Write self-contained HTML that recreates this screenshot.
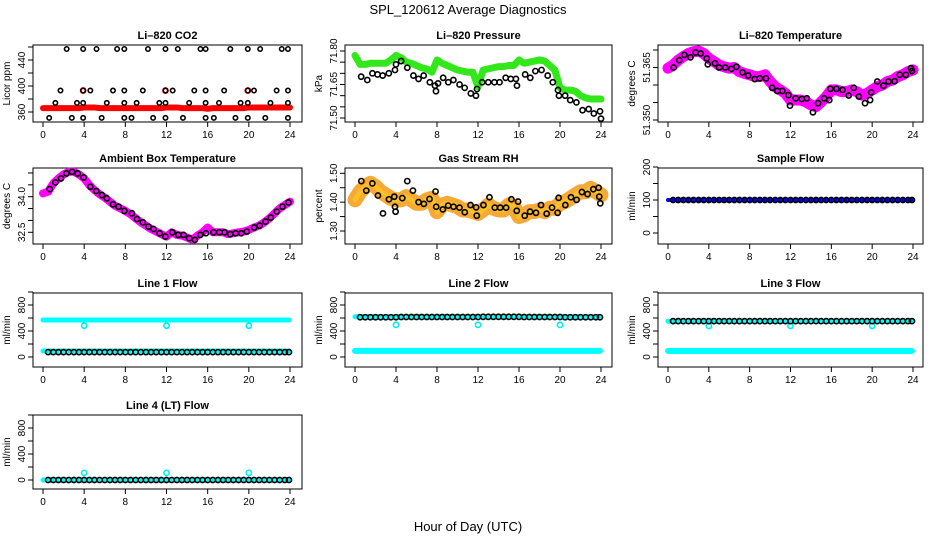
<!DOCTYPE html>
<html><head><meta charset="utf-8"><title>SPL_120612 Average Diagnostics</title>
<style>
html,body{margin:0;padding:0;background:#fff;}
svg{display:block;font-family:"Liberation Sans",Arial,sans-serif;}
</style></head>
<body>
<svg id="chart" width="936" height="540" viewBox="0 0 936 540" xmlns="http://www.w3.org/2000/svg">
<rect x="0" y="0" width="936" height="540" fill="#fff"/>
<text x="468" y="14" text-anchor="middle" font-size="13">SPL_120612  Average Diagnostics</text>
<text x="468" y="531" text-anchor="middle" font-size="13">Hour of Day (UTC)</text>
</svg>
<script>
// ---------- data ----------
const xTicks = [0,4,8,12,16,20,24];
const halfHours = [0,0.5,1,1.5,2,2.5,3,3.5,4,4.5,5,5.5,6,6.5,7,7.5,8,8.5,9,9.5,10,10.5,11,11.5,12,12.5,13,13.5,14,14.5,15,15.5,16,16.5,17,17.5,18,18.5,19,19.5,20,20.5,21,21.5,22,22.5,23,23.5,24];
const flowHours = [0.5,1,1.5,2,2.5,3,3.5,4,4.5,5,5.5,6,6.5,7,7.5,8,8.5,9,9.5,10,10.5,11,11.5,12,12.5,13,13.5,14,14.5,15,15.5,16,16.5,17,17.5,18,18.5,19,19.5,20,20.5,21,21.5,22,22.5,23,23.5,23.9];

// CO2
const co2Red = [366,366,366,366,366,366,366,366,367,367,367,366,366,366,366,366,366,366,366,366,366,366,366,366,367,367,367,366,366,366,366,366,365,366,366,366,366,366,366,366,367,367,367,367,367,367,367,367,367];
const co2RedSpikeHours = [3.9,11.9,19.9];
const co2RedSpikeVals = [393,393,393];
const co2BlackHours = [2.3,3.9,5.2,7.2,7.9,10.2,11.9,13.1,15.3,15.8,18.2,19.9,21.1,23.2,23.8,
  1.7,3.9,4.6,6.8,7.9,9.7,11.9,12.6,14.7,15.8,17.6,19.9,20.5,22.7,23.8,
  1.2,3.3,3.9,6.2,7.9,9.1,11.3,11.9,14.2,15.8,17.1,19.2,19.9,22.1,23.8,
  0.6,2.8,3.9,5.7,7.9,8.6,10.7,11.9,13.6,15.8,16.6,18.7,19.9,21.6,23.8];
const co2BlackVals = [457,457,457,457,457,457,457,457,457,457,457,457,457,457,457,
  393,393,393,393,393,393,393,393,393,393,393,393,393,393,393,
  374,374,374,374,374,374,374,374,374,374,374,374,374,374,374,
  351,351,351,351,351,351,351,351,351,351,351,351,351,351,351];

// Pressure
const presGreen = [71.78,71.74,71.74,71.745,71.745,71.745,71.745,71.76,71.78,71.77,71.75,71.745,71.735,71.725,71.72,71.705,71.76,71.745,71.735,71.725,71.715,71.71,71.705,71.705,71.64,71.715,71.72,71.725,71.73,71.73,71.735,71.735,71.76,71.745,71.75,71.755,71.76,71.755,71.735,71.715,71.635,71.625,71.625,71.62,71.60,71.59,71.585,71.585,71.585];
const presBlackHours = [0.6,1.2,1.7,2.2,2.7,3.3,3.9,4.0,4.5,5.1,5.7,6.2,6.7,7.3,7.8,7.9,8.1,8.6,9.1,9.6,10.2,10.7,11.3,11.8,11.9,12.4,13.0,13.6,14.1,14.7,15.2,15.7,15.8,16.6,17.1,17.6,18.2,18.8,19.3,19.8,19.9,20.5,21.0,21.6,22.2,22.8,23.3,23.9,24];
const presBlackVals = [71.685,71.67,71.70,71.695,71.69,71.70,71.715,71.74,71.755,71.725,71.69,71.675,71.69,71.66,71.645,71.62,71.655,71.68,71.66,71.67,71.65,71.635,71.61,71.60,71.63,71.66,71.66,71.66,71.66,71.68,71.675,71.675,71.645,71.695,71.68,71.71,71.715,71.69,71.66,71.625,71.60,71.60,71.58,71.57,71.535,71.54,71.52,71.53,71.497];

// Li-820 temperature
const tempMag = [51.3648,51.3657,51.3671,51.3681,51.3690,51.3695,51.3697,51.3690,51.3676,51.3667,51.3657,51.3652,51.3648,51.3650,51.3638,51.3633,51.3629,51.3624,51.3624,51.3629,51.3610,51.3595,51.3586,51.3576,51.3557,51.3557,51.3557,51.3552,51.3543,51.3538,51.3552,51.3567,51.3586,51.3586,51.3581,51.3581,51.3586,51.3581,51.3571,51.3576,51.3586,51.3595,51.3600,51.3610,51.3614,51.3624,51.3629,51.3638,51.3643];
const tempBlackHours = [0.55,1.1,1.6,2.2,2.7,3.2,3.8,3.9,4.6,5.0,5.6,6.2,6.7,7.3,7.85,8.5,9.0,9.6,10.2,10.7,11.2,11.8,11.95,12.5,13.1,13.6,14.2,14.7,15.3,15.8,15.9,16.5,17.1,17.7,18.2,18.7,19.3,19.8,19.9,20.5,21.1,21.6,22.2,22.7,23.3,23.8,23.9];
const tempBlackVals = [51.3650,51.3671,51.3686,51.3679,51.3693,51.3690,51.3676,51.3659,51.3662,51.3650,51.3650,51.3646,51.3652,51.3636,51.3627,51.3617,51.3619,51.3619,51.3592,51.3583,51.3583,51.3571,51.3541,51.3562,51.3560,51.3562,51.3522,51.3548,51.3562,51.3557,51.3589,51.3589,51.3586,51.3570,51.3592,51.3567,51.3548,51.3557,51.3579,51.3610,51.3598,51.3610,51.3611,51.3629,51.3629,51.3648,51.3640];

// Ambient box temperature
const ambMag = [34.14,34.21,34.56,34.77,34.94,35.05,35.05,34.94,34.77,34.49,34.28,34.10,33.96,33.79,33.62,33.51,33.40,33.26,33.09,32.92,32.78,32.64,32.53,32.42,32.32,32.50,32.39,32.36,32.28,32.18,32.36,32.50,32.70,32.50,32.50,32.50,32.42,32.46,32.50,32.53,32.60,32.70,32.78,32.92,33.09,33.30,33.51,33.65,33.79];
const ambBlackHours = [0.65,1.2,1.75,2.27,2.82,3.37,3.95,4.6,5.18,5.73,6.21,6.8,7.35,7.9,8.64,9.13,9.71,10.26,10.74,11.33,11.88,12.56,13.14,13.66,14.21,14.76,15.28,15.83,16.57,17.12,17.64,18.19,18.71,19.26,19.81,20.52,21.04,21.62,22.14,22.72,23.27,23.85];
const ambBlackVals = [34.32,34.60,34.77,34.98,35.05,34.98,34.81,34.42,34.24,34.07,33.93,33.68,33.58,33.40,33.30,33.06,32.92,32.74,32.64,32.46,32.32,32.50,32.39,32.39,32.25,32.18,32.39,32.46,32.50,32.50,32.50,32.42,32.46,32.46,32.53,32.70,32.78,32.95,33.12,33.37,33.58,33.76];

// Gas stream RH
const rhOrange = [1.408,1.436,1.454,1.465,1.454,1.436,1.425,1.413,1.408,1.408,1.419,1.408,1.396,1.396,1.408,1.413,1.367,1.390,1.396,1.390,1.384,1.373,1.373,1.367,1.361,1.373,1.390,1.379,1.373,1.373,1.390,1.384,1.350,1.356,1.367,1.367,1.373,1.367,1.379,1.379,1.396,1.402,1.413,1.425,1.436,1.436,1.448,1.436,1.425];
const rhBlackHours = [0.62,1.10,1.69,2.24,2.73,3.31,3.83,3.90,3.96,4.61,5.10,5.65,6.20,6.72,7.27,7.86,7.92,8.57,9.09,9.61,10.19,10.71,11.27,11.82,11.88,12.53,13.12,13.64,14.16,14.74,15.26,15.78,15.91,16.56,17.08,17.66,18.15,18.70,19.22,19.77,19.87,20.52,21.07,21.62,22.14,22.69,23.25,23.77,23.83,23.93];
const rhBlackVals = [1.473,1.440,1.465,1.423,1.361,1.410,1.419,1.384,1.367,1.414,1.473,1.440,1.400,1.394,1.411,1.437,1.384,1.375,1.388,1.384,1.381,1.365,1.390,1.382,1.353,1.390,1.417,1.381,1.381,1.381,1.410,1.370,1.402,1.353,1.367,1.363,1.390,1.360,1.381,1.363,1.415,1.390,1.417,1.408,1.435,1.428,1.445,1.450,1.419,1.396];

// Flows
const lineHours = [0,23.9];
const sampleBlue = [100,100];
const sampleBlack = [100,100,100,100,100,100,100,100,100,100,100,100,100,100,100,100,100,100,100,100,100,100,100,100,100,100,100,100,100,100,100,100,100,100,100,100,100,100,100,100,100,100,100,100,100,100,100,100];
const dipHours = [4,12,20];
const line1CyanHigh = [570,570];
const line1CyanLow = [92,92];
const line1Dips = [482,482,482];
const line1Black = [75,75,75,75,75,75,75,75,75,75,75,75,75,75,75,75,75,75,75,75,75,75,75,75,75,75,75,75,75,75,75,75,75,75,75,75,75,75,75,75,75,75,75,75,75,75,75,75];
const line2CyanHigh = [620,620];
const line2CyanLow = [95,95];
const line2Dips = [495,495,495];
const line2Black = [612,612,612,612,612,612,612,612,615,615,615,615,615,615,615,615,615,615,615,615,615,615,615,615,618,618,618,618,618,618,618,618,615,615,615,615,615,615,615,615,612,612,612,612,612,612,612,612];
const line3CyanHigh = [550,550];
const line3CyanLow = [92,92];
const line3Dips = [478,478,478];
const line3Black = [552,552,552,552,552,552,552,552,552,552,552,552,552,552,552,552,552,552,552,552,552,552,552,552,552,552,552,552,552,552,552,552,552,552,552,552,552,552,552,552,552,552,552,552,552,552,552,552];
const line4Cyan = [0,0];
const line4Dips = [110,110,110];
const line4Black = [0,0,0,0,0,0,0,0,0,0,0,0,0,0,0,0,0,0,0,0,0,0,0,0,0,0,0,0,0,0,0,0,0,0,0,0,0,0,0,0,0,0,0,0,0,0,0,0];

const flowTicks = [0,200,400,600,800,1000];
const flowLabels = [0,400,800];

// ---------- drawing ----------
const NS = 'http://www.w3.org/2000/svg';
const svg = document.getElementById('chart');
function mk(tag, parent){ const e = document.createElementNS(NS, tag); parent.appendChild(e); return e; }

function panel(p){
  const g = mk('g', svg);
  
  
  const [bx0,by0,bx1,by1] = p.box;
  const sx = h => p.xa + (p.xb - p.xa) * h / 24;
  const sy = v => p.yp1 + (p.yp2 - p.yp1) * (v - p.yv1) / (p.yv2 - p.yv1);
  const t = mk('text', g);
  
  
  t.setAttribute('x', (bx0 + bx1) / 2); t.setAttribute('y', by0 - 6);
  t.setAttribute('text-anchor', 'middle'); t.setAttribute('font-size', '11'); t.setAttribute('font-weight', 'bold');
  t.textContent = p.title;
  const yl = mk('text', g);
  
  
  const cy = (by0 + by1) / 2;
  yl.setAttribute('transform', 'translate(' + (bx0 - 23) + ',' + cy + ') rotate(-90)');
  yl.setAttribute('text-anchor', 'middle'); yl.setAttribute('font-size', '10');
  yl.textContent = p.ylab;
  const xa = mk('line', g);
  
  
  xa.setAttribute('x1', sx(0)); xa.setAttribute('x2', sx(24)); xa.setAttribute('y1', by1); xa.setAttribute('y2', by1);
  xa.setAttribute('stroke', '#000');
  xTicks.forEach(h => {
    const l = mk('line', g);
    
    
    l.setAttribute('x1', sx(h)); l.setAttribute('x2', sx(h)); l.setAttribute('y1', by1); l.setAttribute('y2', by1 + 5);
    l.setAttribute('stroke', '#000');
    const tl = mk('text', g);
    
    
    tl.setAttribute('x', sx(h)); tl.setAttribute('y', by1 + 16);
    tl.setAttribute('text-anchor', 'middle'); tl.setAttribute('font-size', '10');
    tl.textContent = h;
  });
  const ya = mk('line', g);
  
  
  const yt = p.yticks;
  ya.setAttribute('x1', bx0); ya.setAttribute('x2', bx0);
  ya.setAttribute('y1', sy(yt[0])); ya.setAttribute('y2', sy(yt[yt.length - 1]));
  ya.setAttribute('stroke', '#000');
  yt.forEach(v => {
    const l = mk('line', g);
    
    
    l.setAttribute('x1', bx0 - 5); l.setAttribute('x2', bx0); l.setAttribute('y1', sy(v)); l.setAttribute('y2', sy(v));
    l.setAttribute('stroke', '#000');
  });
  p.ylabels.forEach(v => {
    const tl = mk('text', g);
    
    
    tl.setAttribute('transform', 'translate(' + (bx0 - 8) + ',' + sy(v) + ') rotate(-90)');
    tl.setAttribute('text-anchor', 'middle'); tl.setAttribute('font-size', '10');
    tl.textContent = p.fmt ? p.fmt(v) : v;
  });
  const box = mk('rect', g);
  
  
  box.setAttribute('x', bx0); box.setAttribute('y', by0); box.setAttribute('width', bx1 - bx0); box.setAttribute('height', by1 - by0);
  box.setAttribute('fill', 'none'); box.setAttribute('stroke', '#000');
  const clip = mk('g', g);
  
  
  return {g: clip, sx, sy};
}

function band(P, hours, vals, color, w, name, op){
  const pl = mk('polyline', P.g);
  
  
  pl.setAttribute('points', hours.map((h, i) => P.sx(h) + ',' + P.sy(vals[i])).join(' '));
  pl.setAttribute('fill', 'none'); pl.setAttribute('stroke', color); pl.setAttribute('stroke-width', w);
  pl.setAttribute('stroke-linejoin', 'round'); pl.setAttribute('stroke-linecap', 'round');
  if (op) pl.setAttribute('opacity', op);
}
function pts(P, hours, vals, color, name, r){
  hours.forEach((h, i) => {
    const c = mk('circle', P.g);
    
    
    c.setAttribute('cx', P.sx(h)); c.setAttribute('cy', P.sy(vals[i])); c.setAttribute('r', r || 2.6);
    c.setAttribute('fill', 'none'); c.setAttribute('stroke', color); c.setAttribute('stroke-width', 1.6);
  });
}

const C1 = {x0:33, x1:302, xa:43, xb:290};
const C2 = {x0:345, x1:612, xa:355, xb:601};
const C3 = {x0:658, x1:923, xa:668, xb:913};

let P = panel({name:'panel-co2', title:'Li\u2013820 CO2', ylab:'Licor ppm', box:[C1.x0,45,C1.x1,122], xa:C1.xa, xb:C1.xb,
  yv1:360, yp1:112, yv2:440, yp2:60, yticks:[360,380,400,420,440,460], ylabels:[360,400,440]});
band(P, halfHours, co2Red, '#ff0000', 6, 'co2-red-series');
pts(P, co2RedSpikeHours, co2RedSpikeVals, '#ff0000', 'co2-red-point');
pts(P, co2BlackHours, co2BlackVals, '#000', 'co2-black-point', 2.2);

P = panel({name:'panel-pressure', title:'Li\u2013820 Pressure', ylab:'kPa', box:[C2.x0,45,C2.x1,122], xa:C2.xa, xb:C2.xb,
  yv1:71.80, yp1:51, yv2:71.50, yp2:118, yticks:[71.50,71.55,71.60,71.65,71.70,71.75,71.80], ylabels:[71.50,71.65,71.80], fmt:v=>v.toFixed(2)});
band(P, halfHours, presGreen, '#33e81a', 7, 'pressure-green-series');
pts(P, presBlackHours, presBlackVals, '#000', 'pressure-black-point');

P = panel({name:'panel-li820-temp', title:'Li\u2013820 Temperature', ylab:'degrees C', box:[C3.x0,45,C3.x1,122], xa:C3.xa, xb:C3.xb,
  yv1:51.370, yp1:50, yv2:51.350, yp2:120, yticks:[51.350,51.355,51.360,51.365,51.370], ylabels:[51.350,51.365], fmt:v=>v.toFixed(3)});
band(P, halfHours, tempMag, '#ff00ff', 11, 'li820-temp-magenta-series');
pts(P, tempBlackHours, tempBlackVals, '#000', 'li820-temp-black-point');

P = panel({name:'panel-ambient-temp', title:'Ambient Box Temperature', ylab:'degrees C', box:[C1.x0,168,C1.x1,244], xa:C1.xa, xb:C1.xb,
  yv1:34.0, yp1:196.7, yv2:32.5, yp2:232.3, yticks:[32.5,33.0,33.5,34.0,34.5,35.0], ylabels:[32.5,34.0], fmt:v=>v.toFixed(1)});
band(P, halfHours, ambMag, '#ff00ff', 8, 'ambient-magenta-series');
pts(P, ambBlackHours, ambBlackVals, '#000', 'ambient-black-point');

P = panel({name:'panel-rh', title:'Gas Stream RH', ylab:'percent', box:[C2.x0,168,C2.x1,244], xa:C2.xa, xb:C2.xb,
  yv1:1.50, yp1:173.3, yv2:1.30, yp2:231, yticks:[1.30,1.35,1.40,1.45,1.50], ylabels:[1.30,1.40,1.50], fmt:v=>v.toFixed(2)});
band(P, halfHours, rhOrange, '#f59a10', 15, 'rh-orange-series', 0.85);
band(P, halfHours, rhOrange, '#ffd020', 5, 'rh-yellow-core', 0.6);
pts(P, rhBlackHours, rhBlackVals, '#000', 'rh-black-point');

P = panel({name:'panel-sample-flow', title:'Sample Flow', ylab:'ml/min', box:[C3.x0,168,C3.x1,244], xa:C3.xa, xb:C3.xb,
  yv1:0, yp1:233, yv2:200, yp2:167, yticks:[0,50,100,150,200], ylabels:[0,100,200]});
band(P, lineHours, sampleBlue, '#0000ff', 4, 'sample-flow-blue-series');
pts(P, flowHours, sampleBlack, '#000', 'sample-flow-black-point');

function flowPanel(name, title, C, top, bottom, zero){
  return panel({name:name, title:title, ylab:'ml/min', box:[C.x0,top,C.x1,bottom], xa:C.xa, xb:C.xb,
    yv1:0, yp1:zero, yv2:800, yp2:zero-52, yticks:flowTicks, ylabels:flowLabels});
}
P = flowPanel('panel-line1-flow', 'Line 1 Flow', C1, 293, 367, 357);
band(P, lineHours, line1CyanHigh, '#00ffff', 5, 'line1-cyan-high');
band(P, lineHours, line1CyanLow, '#00ffff', 5, 'line1-cyan-low');
pts(P, dipHours, line1Dips, '#00eeee', 'line1-cyan-dip');
pts(P, flowHours, line1Black, '#000', 'line1-black-point');

P = flowPanel('panel-line2-flow', 'Line 2 Flow', C2, 293, 367, 357);
band(P, lineHours, line2CyanHigh, '#00ffff', 5, 'line2-cyan-high');
band(P, lineHours, line2CyanLow, '#00ffff', 6, 'line2-cyan-low');
pts(P, dipHours, line2Dips, '#00eeee', 'line2-cyan-dip');
pts(P, flowHours, line2Black, '#000', 'line2-black-point');

P = flowPanel('panel-line3-flow', 'Line 3 Flow', C3, 293, 367, 357);
band(P, lineHours, line3CyanHigh, '#00ffff', 5, 'line3-cyan-high');
band(P, lineHours, line3CyanLow, '#00ffff', 6, 'line3-cyan-low');
pts(P, dipHours, line3Dips, '#00eeee', 'line3-cyan-dip');
pts(P, flowHours, line3Black, '#000', 'line3-black-point');

P = flowPanel('panel-line4-flow', 'Line 4 (LT) Flow', C1, 415, 489, 480);
band(P, lineHours, line4Cyan, '#00ffff', 5, 'line4-cyan-series');
pts(P, dipHours, line4Dips, '#00eeee', 'line4-cyan-dip');
pts(P, flowHours, line4Black, '#000', 'line4-black-point');
</script>
</body></html>
